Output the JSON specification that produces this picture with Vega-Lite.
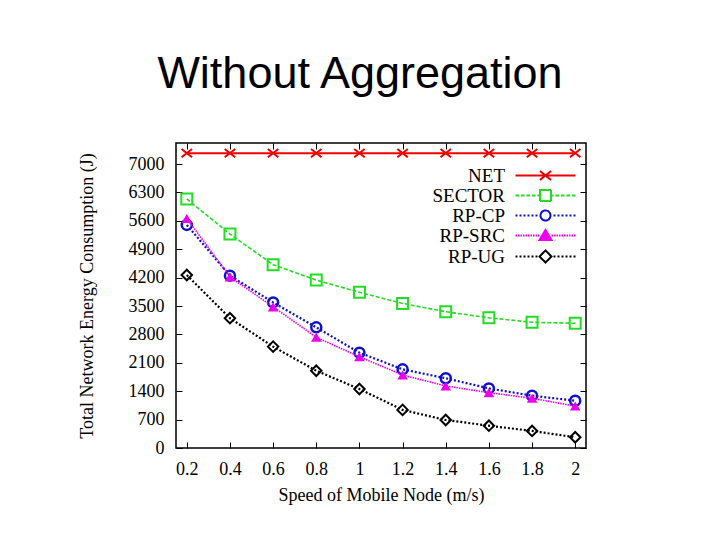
{
  "$schema": "https://vega.github.io/schema/vega-lite/v6.json",
  "width": 410,
  "height": 305,
  "autosize": "none",
  "padding": {"left": 176, "top": 143, "right": 134, "bottom": 92},
  "background": "white",
  "title": {
    "text": "Without Aggregation",
    "font": "Liberation Sans",
    "fontSize": 45,
    "fontWeight": "normal",
    "color": "black",
    "anchor": "middle",
    "frame": "group",
    "baseline": "alphabetic",
    "offset": 10,
    "dx": -21
  },
  "config": {
    "view": {"stroke": "black", "strokeWidth": 1.5},
    "axis": {
      "labelFont": "Liberation Serif",
      "titleFont": "Liberation Serif",
      "labelFontSize": 18,
      "titleFontSize": 18,
      "titleFontWeight": "normal",
      "labelColor": "black",
      "titleColor": "black",
      "grid": false,
      "domain": false,
      "tickColor": "black",
      "tickSize": -6,
      "tickWidth": 1
    }
  },
  "data": {
    "values": [
      {"speed": 0.2, "series": "NET", "energy": 7270},
      {"speed": 0.4, "series": "NET", "energy": 7270},
      {"speed": 0.6, "series": "NET", "energy": 7270},
      {"speed": 0.8, "series": "NET", "energy": 7270},
      {"speed": 1.0, "series": "NET", "energy": 7270},
      {"speed": 1.2, "series": "NET", "energy": 7270},
      {"speed": 1.4, "series": "NET", "energy": 7270},
      {"speed": 1.6, "series": "NET", "energy": 7270},
      {"speed": 1.8, "series": "NET", "energy": 7270},
      {"speed": 2.0, "series": "NET", "energy": 7270},
      {"speed": 0.2, "series": "SECTOR", "energy": 6140},
      {"speed": 0.4, "series": "SECTOR", "energy": 5275},
      {"speed": 0.6, "series": "SECTOR", "energy": 4520},
      {"speed": 0.8, "series": "SECTOR", "energy": 4140},
      {"speed": 1.0, "series": "SECTOR", "energy": 3840},
      {"speed": 1.2, "series": "SECTOR", "energy": 3565},
      {"speed": 1.4, "series": "SECTOR", "energy": 3360},
      {"speed": 1.6, "series": "SECTOR", "energy": 3210},
      {"speed": 1.8, "series": "SECTOR", "energy": 3100},
      {"speed": 2.0, "series": "SECTOR", "energy": 3075},
      {"speed": 0.2, "series": "RP-CP", "energy": 5500},
      {"speed": 0.4, "series": "RP-CP", "energy": 4250},
      {"speed": 0.6, "series": "RP-CP", "energy": 3590},
      {"speed": 0.8, "series": "RP-CP", "energy": 2975},
      {"speed": 1.0, "series": "RP-CP", "energy": 2350},
      {"speed": 1.2, "series": "RP-CP", "energy": 1940},
      {"speed": 1.4, "series": "RP-CP", "energy": 1720},
      {"speed": 1.6, "series": "RP-CP", "energy": 1470},
      {"speed": 1.8, "series": "RP-CP", "energy": 1290},
      {"speed": 2.0, "series": "RP-CP", "energy": 1165},
      {"speed": 0.2, "series": "RP-SRC", "energy": 5660},
      {"speed": 0.4, "series": "RP-SRC", "energy": 4220},
      {"speed": 0.6, "series": "RP-SRC", "energy": 3480},
      {"speed": 0.8, "series": "RP-SRC", "energy": 2730},
      {"speed": 1.0, "series": "RP-SRC", "energy": 2250},
      {"speed": 1.2, "series": "RP-SRC", "energy": 1800},
      {"speed": 1.4, "series": "RP-SRC", "energy": 1530},
      {"speed": 1.6, "series": "RP-SRC", "energy": 1365},
      {"speed": 1.8, "series": "RP-SRC", "energy": 1225},
      {"speed": 2.0, "series": "RP-SRC", "energy": 1035},
      {"speed": 0.2, "series": "RP-UG", "energy": 4265},
      {"speed": 0.4, "series": "RP-UG", "energy": 3200},
      {"speed": 0.6, "series": "RP-UG", "energy": 2500},
      {"speed": 0.8, "series": "RP-UG", "energy": 1905},
      {"speed": 1.0, "series": "RP-UG", "energy": 1455},
      {"speed": 1.2, "series": "RP-UG", "energy": 940},
      {"speed": 1.4, "series": "RP-UG", "energy": 690},
      {"speed": 1.6, "series": "RP-UG", "energy": 550},
      {"speed": 1.8, "series": "RP-UG", "energy": 420},
      {"speed": 2.0, "series": "RP-UG", "energy": 265}
    ]
  },
  "layer": [
    {
      "transform": [{"filter": "datum.series == 'NET'"}],
      "mark": {"type": "line", "strokeWidth": 2, "point": {"shape": "M-1,-0.8L1,0.8M-1,0.8L1,-0.8", "filled": false, "size": 110, "strokeWidth": 2}},
      "encoding": {
        "x": {
          "field": "speed",
          "type": "quantitative",
          "scale": {"domain": [0.15, 2.05], "nice": false, "zero": false},
          "axis": {
            "values": [0.2, 0.4, 0.6, 0.8, 1, 1.2, 1.4, 1.6, 1.8, 2],
            "labelExpr": "datum.value + ''",
            "title": "Speed of Mobile Node (m/s)",
            "labelPadding": 18,
            "titlePadding": 8
          }
        },
        "y": {
          "field": "energy",
          "type": "quantitative",
          "scale": {"domain": [0, 7520], "nice": false},
          "axis": {
            "values": [0, 700, 1400, 2100, 2800, 3500, 4200, 4900, 5600, 6300, 7000],
            "format": "d",
            "title": "Total Network Energy Consumption (J)",
            "labelPadding": 18,
            "titlePadding": 32
          }
        },
        "color": {
          "field": "series",
          "type": "nominal",
          "scale": {
            "domain": ["NET", "SECTOR", "RP-CP", "RP-SRC", "RP-UG"],
            "range": ["#ee0000", "#22dd22", "#1010cc", "#ee00ee", "#000000"]
          },
          "legend": {
            "orient": "none",
            "legendX": 360,
            "legendY": 23,
            "title": null,
            "labelFont": "Liberation Serif",
            "labelFontSize": 19,
            "labelColor": "black",
            "labelAlign": "right",
            "labelOffset": -50,
            "rowPadding": 0,
            "symbolSize": 100,
            "symbolStrokeWidth": 2,
            "encode": {
              "symbols": {
                "update": {
                  "shape": {"signal": "datum.value == 'NET' ? 'M-6,0H6M-1.1,-0.9L1.1,0.9M-1.1,0.9L1.1,-0.9' : datum.value == 'SECTOR' ? 'M-6,0H-5.3M-4.9,0H-4.2M-3.8,0H-3.1M-2.7,0H-2M-1.6,0H-1.1M1.1,0H1.6M2,0H2.7M3.1,0H3.8M4.2,0H4.9M5.3,0H6M-1.1,-1.1H1.1V1.1H-1.1Z' : datum.value == 'RP-CP' ? 'M-6,0H-5.6M-5.2,0H-4.8M-4.4,0H-4M-3.6,0H-3.2M-2.8,0H-2.4M-2,0H-1.6M1.6,0H2M2.4,0H2.8M3.2,0H3.6M4,0H4.4M4.8,0H5.2M5.6,0H6M1,0A1,1,0,1,1,-1,0A1,1,0,1,1,1,0Z' : datum.value == 'RP-SRC' ? 'M-6,0H-5.7M-5.5,0H-5.2M-5,0H-4.7M-4.5,0H-4.2M-4,0H-3.7M-3.5,0H-3.2M-3,0H-2.7M-2.5,0H-2.2M-2,0H-1.7M-1.5,0H-1.2M1.2,0H1.5M1.7,0H2M2.2,0H2.5M2.7,0H3M3.2,0H3.5M3.7,0H4M4.2,0H4.5M4.7,0H5M5.2,0H5.5M5.7,0H6M0,-1.1L1.2,0.9H-1.2Z' : 'M-6,0H-5.6M-5.2,0H-4.8M-4.4,0H-4M-3.6,0H-3.2M-2.8,0H-2.4M-2,0H-1.6M1.6,0H2M2.4,0H2.8M3.2,0H3.6M4,0H4.4M4.8,0H5.2M5.6,0H6M0,-1.2L1.2,0L0,1.2L-1.2,0Z'"},
                  "stroke": {"signal": "datum.value == 'NET' ? '#ee0000' : datum.value == 'SECTOR' ? '#22dd22' : datum.value == 'RP-CP' ? '#1010cc' : datum.value == 'RP-SRC' ? '#ee00ee' : '#000000'"},
                  "fillOpacity": {"signal": "datum.value == 'RP-SRC' ? 1 : 0"},
                  "strokeWidth": {"value": 2},
                  "strokeDash": {"value": [1, 0]},
                  "opacity": {"value": 1}
                }
              }
            }
          }
        }
      }
    },
    {
      "transform": [{"filter": "datum.series == 'SECTOR'"}],
      "mark": {"type": "line", "strokeWidth": 1.6, "strokeDash": [4, 2], "point": {"shape": "square", "filled": false, "size": 120, "strokeWidth": 2}},
      "encoding": {
        "x": {"field": "speed", "type": "quantitative", "axis": null},
        "y": {"field": "energy", "type": "quantitative", "axis": null},
        "color": {"field": "series", "type": "nominal"}
      }
    },
    {
      "transform": [{"filter": "datum.series == 'RP-CP'"}],
      "mark": {"type": "line", "strokeWidth": 2.2, "strokeDash": [2, 2], "point": {"shape": "circle", "filled": false, "size": 100, "strokeWidth": 2.5}},
      "encoding": {
        "x": {"field": "speed", "type": "quantitative", "axis": null},
        "y": {"field": "energy", "type": "quantitative", "axis": null},
        "color": {"field": "series", "type": "nominal"}
      }
    },
    {
      "transform": [{"filter": "datum.series == 'RP-SRC'"}],
      "mark": {"type": "line", "strokeWidth": 1.6, "strokeDash": [1.5, 1], "point": {"shape": "triangle-up", "filled": true, "size": 110, "strokeWidth": 2}},
      "encoding": {
        "x": {"field": "speed", "type": "quantitative", "axis": null},
        "y": {"field": "energy", "type": "quantitative", "axis": null},
        "color": {"field": "series", "type": "nominal"}
      }
    },
    {
      "transform": [{"filter": "datum.series == 'RP-UG'"}],
      "mark": {"type": "line", "strokeWidth": 2.2, "strokeDash": [2, 2], "point": {"shape": "diamond", "filled": false, "size": 110, "strokeWidth": 2}},
      "encoding": {
        "x": {"field": "speed", "type": "quantitative", "axis": null},
        "y": {"field": "energy", "type": "quantitative", "axis": null},
        "color": {"field": "series", "type": "nominal"}
      }
    },
    {
      "mark": {"type": "point", "opacity": 0},
      "encoding": {
        "x": {
          "field": "speed",
          "type": "quantitative",
          "axis": {
            "orient": "top",
            "values": [0.2, 0.4, 0.6, 0.8, 1, 1.2, 1.4, 1.6, 1.8, 2],
            "labels": false,
            "title": null
          }
        },
        "y": {
          "field": "energy",
          "type": "quantitative",
          "axis": {
            "orient": "right",
            "values": [0, 700, 1400, 2100, 2800, 3500, 4200, 4900, 5600, 6300, 7000],
            "labels": false,
            "title": null
          }
        }
      }
    }
  ],
  "resolve": {"axis": {"x": "independent", "y": "independent"}}
}
